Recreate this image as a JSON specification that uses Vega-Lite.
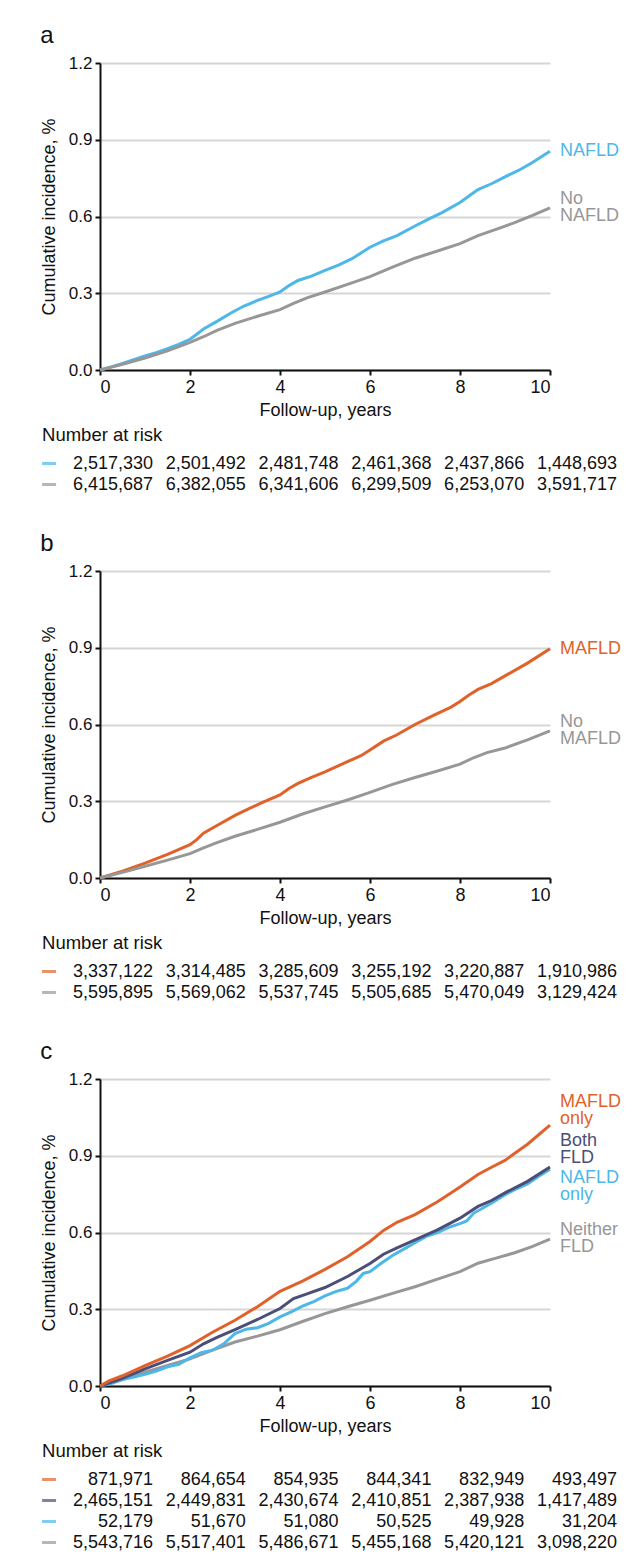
{
  "$schema": "https://vega.github.io/schema/vega-lite/v6.json",
  "background": "white",
  "padding": {"left": 40, "top": 24, "right": 5, "bottom": 5},
  "spacing": 37,
  "resolve": {"scale": {"color": "independent"}},
  "config": {
    "font": "Liberation Sans",
    "view": {"stroke": null},
    "axis": {
      "labelFont": "Liberation Sans", "titleFont": "Liberation Sans",
      "labelFontSize": 17, "titleFontSize": 18, "titleFontWeight": "normal",
      "labelColor": "#111", "titleColor": "#111",
      "domainColor": "#111", "tickColor": "#111", "domainWidth": 2, "tickWidth": 2, "tickSize": 5,
      "gridColor": "#d6d6d6", "gridWidth": 2
    },
    "title": {"font": "Liberation Sans", "fontWeight": "normal", "color": "#111"}
  },
  "datasets": {
    "curveA": [
      {"group": "NAFLD", "t": 0, "inc": 0}, {"group": "NAFLD", "t": 0.25, "inc": 0.012}, {"group": "NAFLD", "t": 0.5, "inc": 0.026}, {"group": "NAFLD", "t": 0.75, "inc": 0.04}, {"group": "NAFLD", "t": 1, "inc": 0.055}, {"group": "NAFLD", "t": 1.25, "inc": 0.068}, {"group": "NAFLD", "t": 1.5, "inc": 0.083}, {"group": "NAFLD", "t": 1.75, "inc": 0.1}, {"group": "NAFLD", "t": 2, "inc": 0.12}, {"group": "NAFLD", "t": 2.15, "inc": 0.14}, {"group": "NAFLD", "t": 2.3, "inc": 0.16}, {"group": "NAFLD", "t": 2.6, "inc": 0.19}, {"group": "NAFLD", "t": 2.9, "inc": 0.222}, {"group": "NAFLD", "t": 3.2, "inc": 0.25}, {"group": "NAFLD", "t": 3.5, "inc": 0.272}, {"group": "NAFLD", "t": 3.75, "inc": 0.288}, {"group": "NAFLD", "t": 4, "inc": 0.305}, {"group": "NAFLD", "t": 4.2, "inc": 0.33}, {"group": "NAFLD", "t": 4.4, "inc": 0.35}, {"group": "NAFLD", "t": 4.7, "inc": 0.367}, {"group": "NAFLD", "t": 5, "inc": 0.389}, {"group": "NAFLD", "t": 5.3, "inc": 0.41}, {"group": "NAFLD", "t": 5.6, "inc": 0.435}, {"group": "NAFLD", "t": 6, "inc": 0.48}, {"group": "NAFLD", "t": 6.3, "inc": 0.505}, {"group": "NAFLD", "t": 6.6, "inc": 0.525}, {"group": "NAFLD", "t": 7, "inc": 0.563}, {"group": "NAFLD", "t": 7.3, "inc": 0.59}, {"group": "NAFLD", "t": 7.6, "inc": 0.615}, {"group": "NAFLD", "t": 8, "inc": 0.655}, {"group": "NAFLD", "t": 8.2, "inc": 0.68}, {"group": "NAFLD", "t": 8.4, "inc": 0.705}, {"group": "NAFLD", "t": 8.7, "inc": 0.728}, {"group": "NAFLD", "t": 9, "inc": 0.755}, {"group": "NAFLD", "t": 9.3, "inc": 0.78}, {"group": "NAFLD", "t": 9.6, "inc": 0.81}, {"group": "NAFLD", "t": 10, "inc": 0.855},
      {"group": "No NAFLD", "t": 0, "inc": 0}, {"group": "No NAFLD", "t": 0.5, "inc": 0.022}, {"group": "No NAFLD", "t": 1, "inc": 0.047}, {"group": "No NAFLD", "t": 1.5, "inc": 0.075}, {"group": "No NAFLD", "t": 2, "inc": 0.108}, {"group": "No NAFLD", "t": 2.3, "inc": 0.13}, {"group": "No NAFLD", "t": 2.6, "inc": 0.155}, {"group": "No NAFLD", "t": 3, "inc": 0.182}, {"group": "No NAFLD", "t": 3.5, "inc": 0.21}, {"group": "No NAFLD", "t": 4, "inc": 0.236}, {"group": "No NAFLD", "t": 4.3, "inc": 0.26}, {"group": "No NAFLD", "t": 4.6, "inc": 0.282}, {"group": "No NAFLD", "t": 5, "inc": 0.305}, {"group": "No NAFLD", "t": 5.5, "inc": 0.335}, {"group": "No NAFLD", "t": 6, "inc": 0.365}, {"group": "No NAFLD", "t": 6.5, "inc": 0.402}, {"group": "No NAFLD", "t": 7, "inc": 0.437}, {"group": "No NAFLD", "t": 7.5, "inc": 0.465}, {"group": "No NAFLD", "t": 8, "inc": 0.494}, {"group": "No NAFLD", "t": 8.4, "inc": 0.525}, {"group": "No NAFLD", "t": 8.8, "inc": 0.55}, {"group": "No NAFLD", "t": 9.2, "inc": 0.575}, {"group": "No NAFLD", "t": 9.6, "inc": 0.603}, {"group": "No NAFLD", "t": 10, "inc": 0.634}
    ],
    "curveB": [
      {"group": "MAFLD", "t": 0, "inc": 0}, {"group": "MAFLD", "t": 0.5, "inc": 0.027}, {"group": "MAFLD", "t": 1, "inc": 0.058}, {"group": "MAFLD", "t": 1.5, "inc": 0.092}, {"group": "MAFLD", "t": 2, "inc": 0.13}, {"group": "MAFLD", "t": 2.15, "inc": 0.15}, {"group": "MAFLD", "t": 2.3, "inc": 0.175}, {"group": "MAFLD", "t": 2.6, "inc": 0.205}, {"group": "MAFLD", "t": 3, "inc": 0.245}, {"group": "MAFLD", "t": 3.3, "inc": 0.27}, {"group": "MAFLD", "t": 3.6, "inc": 0.295}, {"group": "MAFLD", "t": 4, "inc": 0.325}, {"group": "MAFLD", "t": 4.2, "inc": 0.35}, {"group": "MAFLD", "t": 4.4, "inc": 0.37}, {"group": "MAFLD", "t": 4.7, "inc": 0.393}, {"group": "MAFLD", "t": 5, "inc": 0.415}, {"group": "MAFLD", "t": 5.5, "inc": 0.455}, {"group": "MAFLD", "t": 5.8, "inc": 0.478}, {"group": "MAFLD", "t": 6, "inc": 0.5}, {"group": "MAFLD", "t": 6.3, "inc": 0.535}, {"group": "MAFLD", "t": 6.6, "inc": 0.56}, {"group": "MAFLD", "t": 7, "inc": 0.6}, {"group": "MAFLD", "t": 7.4, "inc": 0.635}, {"group": "MAFLD", "t": 7.8, "inc": 0.668}, {"group": "MAFLD", "t": 8, "inc": 0.69}, {"group": "MAFLD", "t": 8.2, "inc": 0.715}, {"group": "MAFLD", "t": 8.4, "inc": 0.737}, {"group": "MAFLD", "t": 8.7, "inc": 0.76}, {"group": "MAFLD", "t": 9, "inc": 0.79}, {"group": "MAFLD", "t": 9.5, "inc": 0.84}, {"group": "MAFLD", "t": 10, "inc": 0.896},
      {"group": "No MAFLD", "t": 0, "inc": 0}, {"group": "No MAFLD", "t": 0.5, "inc": 0.022}, {"group": "No MAFLD", "t": 1, "inc": 0.046}, {"group": "No MAFLD", "t": 1.5, "inc": 0.07}, {"group": "No MAFLD", "t": 2, "inc": 0.095}, {"group": "No MAFLD", "t": 2.3, "inc": 0.118}, {"group": "No MAFLD", "t": 2.6, "inc": 0.138}, {"group": "No MAFLD", "t": 3, "inc": 0.163}, {"group": "No MAFLD", "t": 3.5, "inc": 0.19}, {"group": "No MAFLD", "t": 4, "inc": 0.218}, {"group": "No MAFLD", "t": 4.5, "inc": 0.25}, {"group": "No MAFLD", "t": 5, "inc": 0.278}, {"group": "No MAFLD", "t": 5.5, "inc": 0.305}, {"group": "No MAFLD", "t": 6, "inc": 0.335}, {"group": "No MAFLD", "t": 6.5, "inc": 0.366}, {"group": "No MAFLD", "t": 7, "inc": 0.393}, {"group": "No MAFLD", "t": 7.5, "inc": 0.418}, {"group": "No MAFLD", "t": 8, "inc": 0.445}, {"group": "No MAFLD", "t": 8.3, "inc": 0.47}, {"group": "No MAFLD", "t": 8.6, "inc": 0.49}, {"group": "No MAFLD", "t": 9, "inc": 0.508}, {"group": "No MAFLD", "t": 9.5, "inc": 0.54}, {"group": "No MAFLD", "t": 10, "inc": 0.575}
    ],
    "curveC": [
      {"group": "Neither FLD", "t": 0, "inc": 0}, {"group": "Neither FLD", "t": 0.5, "inc": 0.026}, {"group": "Neither FLD", "t": 1, "inc": 0.054}, {"group": "Neither FLD", "t": 1.5, "inc": 0.08}, {"group": "Neither FLD", "t": 2, "inc": 0.106}, {"group": "Neither FLD", "t": 2.5, "inc": 0.14}, {"group": "Neither FLD", "t": 3, "inc": 0.172}, {"group": "Neither FLD", "t": 3.5, "inc": 0.195}, {"group": "Neither FLD", "t": 4, "inc": 0.22}, {"group": "Neither FLD", "t": 4.5, "inc": 0.252}, {"group": "Neither FLD", "t": 5, "inc": 0.283}, {"group": "Neither FLD", "t": 5.5, "inc": 0.31}, {"group": "Neither FLD", "t": 6, "inc": 0.335}, {"group": "Neither FLD", "t": 6.5, "inc": 0.362}, {"group": "Neither FLD", "t": 7, "inc": 0.388}, {"group": "Neither FLD", "t": 7.5, "inc": 0.418}, {"group": "Neither FLD", "t": 8, "inc": 0.447}, {"group": "Neither FLD", "t": 8.4, "inc": 0.48}, {"group": "Neither FLD", "t": 8.8, "inc": 0.5}, {"group": "Neither FLD", "t": 9.2, "inc": 0.52}, {"group": "Neither FLD", "t": 9.6, "inc": 0.545}, {"group": "Neither FLD", "t": 10, "inc": 0.574},
      {"group": "NAFLD only", "t": 0, "inc": 0}, {"group": "NAFLD only", "t": 0.25, "inc": 0.01}, {"group": "NAFLD only", "t": 0.5, "inc": 0.025}, {"group": "NAFLD only", "t": 0.75, "inc": 0.035}, {"group": "NAFLD only", "t": 1, "inc": 0.046}, {"group": "NAFLD only", "t": 1.25, "inc": 0.058}, {"group": "NAFLD only", "t": 1.5, "inc": 0.075}, {"group": "NAFLD only", "t": 1.75, "inc": 0.085}, {"group": "NAFLD only", "t": 2, "inc": 0.11}, {"group": "NAFLD only", "t": 2.25, "inc": 0.13}, {"group": "NAFLD only", "t": 2.5, "inc": 0.14}, {"group": "NAFLD only", "t": 2.75, "inc": 0.165}, {"group": "NAFLD only", "t": 3, "inc": 0.205}, {"group": "NAFLD only", "t": 3.25, "inc": 0.222}, {"group": "NAFLD only", "t": 3.5, "inc": 0.228}, {"group": "NAFLD only", "t": 3.75, "inc": 0.245}, {"group": "NAFLD only", "t": 4, "inc": 0.27}, {"group": "NAFLD only", "t": 4.25, "inc": 0.29}, {"group": "NAFLD only", "t": 4.5, "inc": 0.312}, {"group": "NAFLD only", "t": 4.75, "inc": 0.33}, {"group": "NAFLD only", "t": 5, "inc": 0.352}, {"group": "NAFLD only", "t": 5.25, "inc": 0.37}, {"group": "NAFLD only", "t": 5.5, "inc": 0.382}, {"group": "NAFLD only", "t": 5.7, "inc": 0.41}, {"group": "NAFLD only", "t": 5.85, "inc": 0.44}, {"group": "NAFLD only", "t": 6, "inc": 0.447}, {"group": "NAFLD only", "t": 6.25, "inc": 0.48}, {"group": "NAFLD only", "t": 6.5, "inc": 0.51}, {"group": "NAFLD only", "t": 6.75, "inc": 0.535}, {"group": "NAFLD only", "t": 7, "inc": 0.56}, {"group": "NAFLD only", "t": 7.25, "inc": 0.585}, {"group": "NAFLD only", "t": 7.5, "inc": 0.6}, {"group": "NAFLD only", "t": 7.75, "inc": 0.62}, {"group": "NAFLD only", "t": 8, "inc": 0.635}, {"group": "NAFLD only", "t": 8.15, "inc": 0.645}, {"group": "NAFLD only", "t": 8.3, "inc": 0.675}, {"group": "NAFLD only", "t": 8.5, "inc": 0.695}, {"group": "NAFLD only", "t": 8.75, "inc": 0.72}, {"group": "NAFLD only", "t": 9, "inc": 0.748}, {"group": "NAFLD only", "t": 9.25, "inc": 0.77}, {"group": "NAFLD only", "t": 9.5, "inc": 0.79}, {"group": "NAFLD only", "t": 9.75, "inc": 0.82}, {"group": "NAFLD only", "t": 10, "inc": 0.847},
      {"group": "Both FLD", "t": 0, "inc": 0}, {"group": "Both FLD", "t": 0.5, "inc": 0.03}, {"group": "Both FLD", "t": 1, "inc": 0.067}, {"group": "Both FLD", "t": 1.5, "inc": 0.1}, {"group": "Both FLD", "t": 2, "inc": 0.132}, {"group": "Both FLD", "t": 2.3, "inc": 0.165}, {"group": "Both FLD", "t": 2.6, "inc": 0.19}, {"group": "Both FLD", "t": 3, "inc": 0.22}, {"group": "Both FLD", "t": 3.5, "inc": 0.26}, {"group": "Both FLD", "t": 4, "inc": 0.303}, {"group": "Both FLD", "t": 4.3, "inc": 0.342}, {"group": "Both FLD", "t": 4.6, "inc": 0.36}, {"group": "Both FLD", "t": 5, "inc": 0.385}, {"group": "Both FLD", "t": 5.5, "inc": 0.428}, {"group": "Both FLD", "t": 6, "inc": 0.479}, {"group": "Both FLD", "t": 6.3, "inc": 0.515}, {"group": "Both FLD", "t": 6.6, "inc": 0.54}, {"group": "Both FLD", "t": 7, "inc": 0.571}, {"group": "Both FLD", "t": 7.5, "inc": 0.61}, {"group": "Both FLD", "t": 8, "inc": 0.656}, {"group": "Both FLD", "t": 8.4, "inc": 0.702}, {"group": "Both FLD", "t": 8.7, "inc": 0.725}, {"group": "Both FLD", "t": 9, "inc": 0.755}, {"group": "Both FLD", "t": 9.5, "inc": 0.8}, {"group": "Both FLD", "t": 10, "inc": 0.856},
      {"group": "MAFLD only", "t": 0, "inc": 0}, {"group": "MAFLD only", "t": 0.2, "inc": 0.02}, {"group": "MAFLD only", "t": 0.5, "inc": 0.04}, {"group": "MAFLD only", "t": 1, "inc": 0.08}, {"group": "MAFLD only", "t": 1.5, "inc": 0.117}, {"group": "MAFLD only", "t": 2, "inc": 0.158}, {"group": "MAFLD only", "t": 2.5, "inc": 0.21}, {"group": "MAFLD only", "t": 3, "inc": 0.257}, {"group": "MAFLD only", "t": 3.5, "inc": 0.31}, {"group": "MAFLD only", "t": 4, "inc": 0.37}, {"group": "MAFLD only", "t": 4.5, "inc": 0.41}, {"group": "MAFLD only", "t": 5, "inc": 0.456}, {"group": "MAFLD only", "t": 5.5, "inc": 0.505}, {"group": "MAFLD only", "t": 6, "inc": 0.565}, {"group": "MAFLD only", "t": 6.3, "inc": 0.608}, {"group": "MAFLD only", "t": 6.6, "inc": 0.64}, {"group": "MAFLD only", "t": 7, "inc": 0.67}, {"group": "MAFLD only", "t": 7.5, "inc": 0.72}, {"group": "MAFLD only", "t": 8, "inc": 0.778}, {"group": "MAFLD only", "t": 8.4, "inc": 0.827}, {"group": "MAFLD only", "t": 8.7, "inc": 0.855}, {"group": "MAFLD only", "t": 9, "inc": 0.882}, {"group": "MAFLD only", "t": 9.5, "inc": 0.945}, {"group": "MAFLD only", "t": 10, "inc": 1.02}
    ],
    "labA1": [
      {"group": "NAFLD", "label": "NAFLD", "t": 10, "ly": 0.855}
    ],
    "labA2": [
      {"group": "No NAFLD", "label": "No\nNAFLD", "t": 10, "ly": 0.634}
    ],
    "labB1": [
      {"group": "MAFLD", "label": "MAFLD", "t": 10, "ly": 0.896}
    ],
    "labB2": [
      {"group": "No MAFLD", "label": "No\nMAFLD", "t": 10, "ly": 0.575}
    ],
    "labC": [
      {"group": "MAFLD only", "label": "MAFLD\nonly", "t": 10, "ly": 1.078},
      {"group": "Both FLD", "label": "Both\nFLD", "t": 10, "ly": 0.925},
      {"group": "NAFLD only", "label": "NAFLD\nonly", "t": 10, "ly": 0.779},
      {"group": "Neither FLD", "label": "Neither\nFLD", "t": 10, "ly": 0.575}
    ],
    "riskA": [
      {"row": 0, "group": "NAFLD", "col": 1, "n": 2517330}, {"row": 0, "group": "NAFLD", "col": 2, "n": 2501492}, {"row": 0, "group": "NAFLD", "col": 3, "n": 2481748}, {"row": 0, "group": "NAFLD", "col": 4, "n": 2461368}, {"row": 0, "group": "NAFLD", "col": 5, "n": 2437866}, {"row": 0, "group": "NAFLD", "col": 6, "n": 1448693},
      {"row": 1, "group": "No NAFLD", "col": 1, "n": 6415687}, {"row": 1, "group": "No NAFLD", "col": 2, "n": 6382055}, {"row": 1, "group": "No NAFLD", "col": 3, "n": 6341606}, {"row": 1, "group": "No NAFLD", "col": 4, "n": 6299509}, {"row": 1, "group": "No NAFLD", "col": 5, "n": 6253070}, {"row": 1, "group": "No NAFLD", "col": 6, "n": 3591717}
    ],
    "riskB": [
      {"row": 0, "group": "MAFLD", "col": 1, "n": 3337122}, {"row": 0, "group": "MAFLD", "col": 2, "n": 3314485}, {"row": 0, "group": "MAFLD", "col": 3, "n": 3285609}, {"row": 0, "group": "MAFLD", "col": 4, "n": 3255192}, {"row": 0, "group": "MAFLD", "col": 5, "n": 3220887}, {"row": 0, "group": "MAFLD", "col": 6, "n": 1910986},
      {"row": 1, "group": "No MAFLD", "col": 1, "n": 5595895}, {"row": 1, "group": "No MAFLD", "col": 2, "n": 5569062}, {"row": 1, "group": "No MAFLD", "col": 3, "n": 5537745}, {"row": 1, "group": "No MAFLD", "col": 4, "n": 5505685}, {"row": 1, "group": "No MAFLD", "col": 5, "n": 5470049}, {"row": 1, "group": "No MAFLD", "col": 6, "n": 3129424}
    ],
    "riskC": [
      {"row": 0, "group": "MAFLD only", "col": 1, "n": 871971}, {"row": 0, "group": "MAFLD only", "col": 2, "n": 864654}, {"row": 0, "group": "MAFLD only", "col": 3, "n": 854935}, {"row": 0, "group": "MAFLD only", "col": 4, "n": 844341}, {"row": 0, "group": "MAFLD only", "col": 5, "n": 832949}, {"row": 0, "group": "MAFLD only", "col": 6, "n": 493497},
      {"row": 1, "group": "Both FLD", "col": 1, "n": 2465151}, {"row": 1, "group": "Both FLD", "col": 2, "n": 2449831}, {"row": 1, "group": "Both FLD", "col": 3, "n": 2430674}, {"row": 1, "group": "Both FLD", "col": 4, "n": 2410851}, {"row": 1, "group": "Both FLD", "col": 5, "n": 2387938}, {"row": 1, "group": "Both FLD", "col": 6, "n": 1417489},
      {"row": 2, "group": "NAFLD only", "col": 1, "n": 52179}, {"row": 2, "group": "NAFLD only", "col": 2, "n": 51670}, {"row": 2, "group": "NAFLD only", "col": 3, "n": 51080}, {"row": 2, "group": "NAFLD only", "col": 4, "n": 50525}, {"row": 2, "group": "NAFLD only", "col": 5, "n": 49928}, {"row": 2, "group": "NAFLD only", "col": 6, "n": 31204},
      {"row": 3, "group": "Neither FLD", "col": 1, "n": 5543716}, {"row": 3, "group": "Neither FLD", "col": 2, "n": 5517401}, {"row": 3, "group": "Neither FLD", "col": 3, "n": 5486671}, {"row": 3, "group": "Neither FLD", "col": 4, "n": 5455168}, {"row": 3, "group": "Neither FLD", "col": 5, "n": 5420121}, {"row": 3, "group": "Neither FLD", "col": 6, "n": 3098220}
    ],
    "mkA": [
      {"row": 0, "group": "NAFLD", "col": -0.12},
      {"row": 1, "group": "No NAFLD", "col": -0.12}
    ],
    "mkB": [
      {"row": 0, "group": "MAFLD", "col": -0.12},
      {"row": 1, "group": "No MAFLD", "col": -0.12}
    ],
    "mkC": [
      {"row": 0, "group": "MAFLD only", "col": -0.12},
      {"row": 1, "group": "Both FLD", "col": -0.12},
      {"row": 2, "group": "NAFLD only", "col": -0.12},
      {"row": 3, "group": "Neither FLD", "col": -0.12}
    ]
  },
  "vconcat": [
    {
      "spacing": 6,
      "vconcat": [
        {
          "title": {"text": "a", "anchor": "start", "frame": "bounds", "fontSize": 24, "offset": 6},
          "width": 450, "height": 307,
          "layer": [
            {"data": {"name": "curveA"}, "mark": {"type": "line", "strokeWidth": 3},
             "encoding": {
               "x": {"field": "t", "type": "quantitative", "scale": {"domain": [0, 10], "nice": false}, "axis": {"values": [0, 2, 4, 6, 8, 10], "title": "Follow-up, years", "grid": false, "labelFontSize": 18, "labelPadding": 3, "titlePadding": 5}},
               "y": {"field": "inc", "type": "quantitative", "scale": {"domain": [0, 1.2], "nice": false}, "axis": {"values": [0, 0.3, 0.6, 0.9, 1.2], "format": ".1f", "title": "Cumulative incidence, %", "grid": true, "labelPadding": 3, "titlePadding": 10}},
               "color": {"field": "group", "type": "nominal", "scale": {"domain": ["NAFLD", "No NAFLD"], "range": ["#4cb7e8", "#979797"]}, "legend": null}
             }},
            {"data": {"name": "labA1"}, "mark": {"type": "text", "align": "left", "baseline": "middle", "dx": 10, "fontSize": 18},
             "encoding": {
               "x": {"field": "t", "type": "quantitative"}, "y": {"field": "ly", "type": "quantitative"},
               "text": {"field": "label", "type": "nominal"},
               "color": {"field": "group", "type": "nominal", "legend": null}
             }},
            {"data": {"name": "labA2"}, "mark": {"type": "text", "align": "left", "baseline": "middle", "dx": 10, "dy": -8.5, "fontSize": 18, "lineBreak": "\n", "lineHeight": 17},
             "encoding": {
               "x": {"field": "t", "type": "quantitative"}, "y": {"field": "ly", "type": "quantitative"},
               "text": {"field": "label", "type": "nominal"},
               "color": {"field": "group", "type": "nominal", "legend": null}
             }}
          ]
        },
        {
          "title": {"text": "Number at risk", "anchor": "start", "frame": "bounds", "fontSize": 18.5, "offset": 9},
          "width": 450, "height": 42,
          "layer": [
            {"data": {"name": "mkA"}, "mark": {"type": "tick", "orient": "horizontal", "size": 14, "thickness": 3},
             "encoding": {"x": {"field": "col", "type": "quantitative", "scale": {"domain": [0.4289, 5.278], "nice": false, "zero": false}, "axis": null}, "y": {"field": "row", "type": "ordinal", "axis": null},
               "color": {"field": "group", "type": "nominal", "scale": {"domain": ["NAFLD", "No NAFLD"], "range": ["#4cb7e8", "#979797"]}, "legend": null}}},
            {"data": {"name": "riskA"}, "mark": {"type": "text", "align": "right", "baseline": "middle", "fontSize": 18, "color": "#111"},
             "encoding": {"x": {"field": "col", "type": "quantitative", "axis": null},
               "y": {"field": "row", "type": "ordinal", "axis": null},
               "text": {"field": "n", "type": "quantitative", "format": ","}}}
          ]
        }
      ]
    },
    {
      "spacing": 6,
      "vconcat": [
        {
          "title": {"text": "b", "anchor": "start", "frame": "bounds", "fontSize": 24, "offset": 6},
          "width": 450, "height": 307,
          "layer": [
            {"data": {"name": "curveB"}, "mark": {"type": "line", "strokeWidth": 3},
             "encoding": {
               "x": {"field": "t", "type": "quantitative", "scale": {"domain": [0, 10], "nice": false}, "axis": {"values": [0, 2, 4, 6, 8, 10], "title": "Follow-up, years", "grid": false, "labelFontSize": 18, "labelPadding": 3, "titlePadding": 5}},
               "y": {"field": "inc", "type": "quantitative", "scale": {"domain": [0, 1.2], "nice": false}, "axis": {"values": [0, 0.3, 0.6, 0.9, 1.2], "format": ".1f", "title": "Cumulative incidence, %", "grid": true, "labelPadding": 3, "titlePadding": 10}},
               "color": {"field": "group", "type": "nominal", "scale": {"domain": ["MAFLD", "No MAFLD"], "range": ["#e0622a", "#979797"]}, "legend": null}
             }},
            {"data": {"name": "labB1"}, "mark": {"type": "text", "align": "left", "baseline": "middle", "dx": 10, "fontSize": 18},
             "encoding": {
               "x": {"field": "t", "type": "quantitative"}, "y": {"field": "ly", "type": "quantitative"},
               "text": {"field": "label", "type": "nominal"},
               "color": {"field": "group", "type": "nominal", "legend": null}
             }},
            {"data": {"name": "labB2"}, "mark": {"type": "text", "align": "left", "baseline": "middle", "dx": 10, "dy": -8.5, "fontSize": 18, "lineBreak": "\n", "lineHeight": 17},
             "encoding": {
               "x": {"field": "t", "type": "quantitative"}, "y": {"field": "ly", "type": "quantitative"},
               "text": {"field": "label", "type": "nominal"},
               "color": {"field": "group", "type": "nominal", "legend": null}
             }}
          ]
        },
        {
          "title": {"text": "Number at risk", "anchor": "start", "frame": "bounds", "fontSize": 18.5, "offset": 9},
          "width": 450, "height": 42,
          "layer": [
            {"data": {"name": "mkB"}, "mark": {"type": "tick", "orient": "horizontal", "size": 14, "thickness": 3},
             "encoding": {"x": {"field": "col", "type": "quantitative", "scale": {"domain": [0.4289, 5.278], "nice": false, "zero": false}, "axis": null}, "y": {"field": "row", "type": "ordinal", "axis": null},
               "color": {"field": "group", "type": "nominal", "scale": {"domain": ["MAFLD", "No MAFLD"], "range": ["#e0622a", "#979797"]}, "legend": null}}},
            {"data": {"name": "riskB"}, "mark": {"type": "text", "align": "right", "baseline": "middle", "fontSize": 18, "color": "#111"},
             "encoding": {"x": {"field": "col", "type": "quantitative", "axis": null},
               "y": {"field": "row", "type": "ordinal", "axis": null},
               "text": {"field": "n", "type": "quantitative", "format": ","}}}
          ]
        }
      ]
    },
    {
      "spacing": 6,
      "vconcat": [
        {
          "title": {"text": "c", "anchor": "start", "frame": "bounds", "fontSize": 24, "offset": 6},
          "width": 450, "height": 307,
          "layer": [
            {"data": {"name": "curveC"}, "mark": {"type": "line", "strokeWidth": 3},
             "encoding": {
               "x": {"field": "t", "type": "quantitative", "scale": {"domain": [0, 10], "nice": false}, "axis": {"values": [0, 2, 4, 6, 8, 10], "title": "Follow-up, years", "grid": false, "labelFontSize": 18, "labelPadding": 3, "titlePadding": 5}},
               "y": {"field": "inc", "type": "quantitative", "scale": {"domain": [0, 1.2], "nice": false}, "axis": {"values": [0, 0.3, 0.6, 0.9, 1.2], "format": ".1f", "title": "Cumulative incidence, %", "grid": true, "labelPadding": 3, "titlePadding": 10}},
               "color": {"field": "group", "type": "nominal", "scale": {"domain": ["Neither FLD", "NAFLD only", "Both FLD", "MAFLD only"], "range": ["#979797", "#4cb7e8", "#4b4f78", "#e0622a"]}, "legend": null}
             }},
            {"data": {"name": "labC"}, "mark": {"type": "text", "align": "left", "baseline": "middle", "dx": 10, "dy": -8.5, "fontSize": 18, "lineBreak": "\n", "lineHeight": 17},
             "encoding": {
               "x": {"field": "t", "type": "quantitative"}, "y": {"field": "ly", "type": "quantitative"},
               "text": {"field": "label", "type": "nominal"},
               "color": {"field": "group", "type": "nominal", "legend": null}
             }}
          ]
        },
        {
          "title": {"text": "Number at risk", "anchor": "start", "frame": "bounds", "fontSize": 18.5, "offset": 9},
          "width": 450, "height": 84,
          "layer": [
            {"data": {"name": "mkC"}, "mark": {"type": "tick", "orient": "horizontal", "size": 14, "thickness": 3},
             "encoding": {"x": {"field": "col", "type": "quantitative", "scale": {"domain": [0.4289, 5.278], "nice": false, "zero": false}, "axis": null}, "y": {"field": "row", "type": "ordinal", "axis": null},
               "color": {"field": "group", "type": "nominal", "scale": {"domain": ["Neither FLD", "NAFLD only", "Both FLD", "MAFLD only"], "range": ["#979797", "#4cb7e8", "#4b4f78", "#e0622a"]}, "legend": null}}},
            {"data": {"name": "riskC"}, "mark": {"type": "text", "align": "right", "baseline": "middle", "fontSize": 18, "color": "#111"},
             "encoding": {"x": {"field": "col", "type": "quantitative", "axis": null},
               "y": {"field": "row", "type": "ordinal", "axis": null},
               "text": {"field": "n", "type": "quantitative", "format": ","}}}
          ]
        }
      ]
    }
  ]
}
